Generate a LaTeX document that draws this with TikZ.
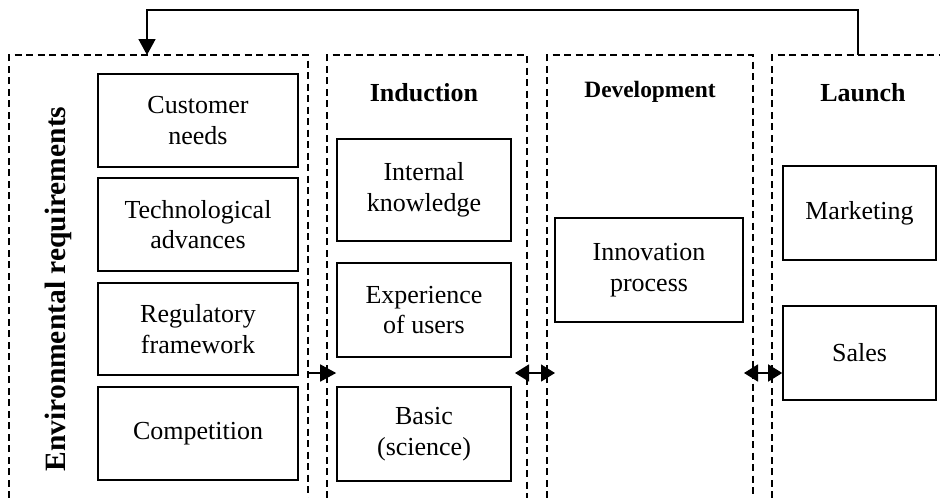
\documentclass[tikz,border=0pt]{standalone}
\usepackage{fontspec}
\setmainfont{Liberation Serif}
\usetikzlibrary{arrows.meta}
\begin{document}
\begin{tikzpicture}[x=1pt,y=-1pt,
  panel/.style={dash pattern=on 7pt off 4.5pt, line width=1.4pt},
  box/.style={draw, line width=1.6pt, rectangle, align=center, inner sep=0pt,
    font=\fontsize{26}{30.5}\selectfont},
  head/.style={font=\fontsize{26}{30}\selectfont\bfseries, inner sep=0pt},
  conn/.style={line width=1.6pt},
  tip/.style={-{Triangle[length=16pt,width=17pt]}},
  dtip/.style={{Triangle[length=14pt,width=17pt]}-{Triangle[length=14pt,width=17pt]}}]
\useasboundingbox (0,0) rectangle (940,498);
% panels
\draw[panel] (9,498) -- (9,55) -- (308,55) -- (308,498);
\draw[panel] (327,498) -- (327,55) -- (527,55) -- (527,498);
\draw[panel] (547,498) -- (547,55) -- (753,55) -- (753,498);
\draw[panel] (772,498) -- (772,55) -- (942,55);
% left panel
\node[rotate=90, font=\fontsize{29.5}{32}\selectfont\bfseries, inner sep=0pt] (env) at (58,289) {Environmental requirements};
\node[box, minimum width=200pt, minimum height=93pt] (cn) at (198,120.5) {Customer\\needs};
\node[box, minimum width=200pt, minimum height=93pt] (ta) at (198,224.5) {Technological\\advances};
\node[box, minimum width=200pt, minimum height=92pt] (rf) at (198,329) {Regulatory\\framework};
\node[box, minimum width=200pt, minimum height=93pt] (co) at (198,433.5) {Competition};
% induction
\node[head] (hind) at (424,93) {Induction};
\node[box, minimum width=174pt, minimum height=102pt] (ik) at (424,190) {Internal\\knowledge};
\node[box, minimum width=174pt, minimum height=94pt] (eu) at (424,310) {Experience\\of users};
\node[box, minimum width=174pt, minimum height=94pt] (bs) at (424,434) {Basic\\(science)};
% development
\node[head, font=\fontsize{23.4}{26}\selectfont\bfseries] (hdev) at (650,92) {Development};
\node[box, minimum width=188pt, minimum height=104pt] (ip) at (649,270) {Innovation\\process};
% launch
\node[head] (hlau) at (863,93) {Launch};
\node[box, minimum width=153pt, minimum height=94pt] (mk) at (859.5,213) {Marketing};
\node[box, minimum width=153pt, minimum height=94pt] (sl) at (859.5,353) {Sales};
% connectors
\coordinate (a1s) at (308,373);
\coordinate (a1e) at (bs.west |- 0,373);
\draw[conn, tip] (a1s) -- (a1e);
\coordinate (a2s) at (515,373);
\coordinate (a2e) at (555,373);
\draw[conn, dtip] (a2s) -- (a2e);
\coordinate (a3s) at (744,373);
\coordinate (a3e) at (sl.west |- 0,373);
\draw[conn, dtip] (a3s) -- (a3e);
% feedback
\coordinate (fbs) at (858,55);
\coordinate (fbe) at (147,55);
\draw[conn, tip] (fbs) -- (858,10) -- (147,10) -- (fbe);
\end{tikzpicture}
\end{document}
